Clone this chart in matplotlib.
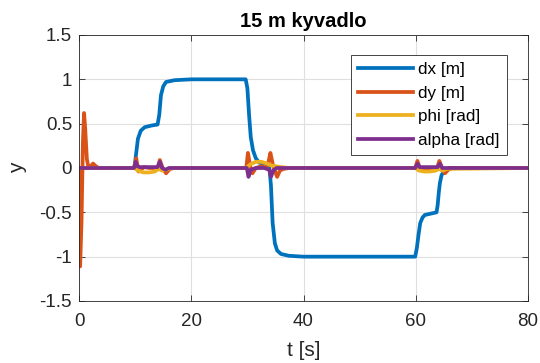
import matplotlib
matplotlib.use('Agg')
import matplotlib.pyplot as plt

plt.rcParams['font.family'] = ['Liberation Sans', 'DejaVu Sans']

# values (time [s], value)
t_dx = [0, 9.9, 10.1, 10.5, 11.0, 11.7, 13.0, 14.0, 14.3, 14.6, 15.0, 15.5, 17.0, 20.0,
        29.7, 30.0, 30.3, 30.6, 31.0, 31.5, 32.1, 33.8, 34.0, 34.2, 34.5, 34.9, 35.3, 36.0, 37.4, 40.0,
        59.9, 60.2, 60.5, 60.8, 61.2, 61.6, 63.7, 63.9, 64.1, 64.3, 64.6, 65.2, 66.0, 80]
dx = [0, 0, 0.12, 0.33, 0.42, 0.46, 0.48, 0.49, 0.6, 0.82, 0.92, 0.97, 0.99, 1.0,
      1.0, 0.9, 0.6, 0.35, 0.2, 0.11, 0.06, 0.04, -0.05, -0.2, -0.62, -0.85, -0.93, -0.97, -0.99, -1.0,
      -1.0, -0.9, -0.75, -0.62, -0.56, -0.53, -0.5, -0.42, -0.28, -0.17, -0.08, -0.02, 0, 0]

t_dy = [0, 0.05, 0.2, 0.45, 0.7, 0.9, 1.1, 1.4, 1.7, 2.1, 2.5, 3.0, 3.5,
        9.8, 10.2, 10.6, 11.0, 11.6, 12.5, 14.0, 14.4, 14.9, 15.5, 16.2, 17.0,
        29.8, 30.1, 30.5, 30.9, 31.5, 32.5, 33.4, 33.8, 34.1, 34.6, 35.3, 35.8, 36.4, 37.5,
        59.9, 60.3, 60.7, 61.2, 62.5, 63.8, 64.2, 64.7, 65.2, 65.8, 66.5, 80]
dy = [0, -0.8, -1.11, -0.6, 0.3, 0.62, 0.45, 0.1, 0.0, 0.02, 0.05, 0.02, 0,
      0, 0.11, -0.04, -0.02, 0.01, 0, 0, 0.09, 0.0, -0.06, -0.01, 0,
      0, 0.17, 0.02, -0.06, 0.0, 0.02, 0.0, 0.08, 0.17, 0.02, -0.1, -0.03, -0.01, 0,
      0, 0.08, 0.0, -0.02, 0, 0.0, 0.08, 0.0, -0.06, -0.02, 0, 0]

t_phi = [0, 9.9, 10.5, 11.5, 12.5, 13.5, 14.2, 14.8, 15.5, 16.5,
         29.8, 30.5, 31.5, 32.5, 33.5, 34.2, 35.0, 36.0, 37.5,
         59.9, 60.6, 61.5, 62.5, 63.5, 64.2, 64.8, 65.5, 80]
phi = [0, 0, -0.03, -0.05, -0.05, -0.04, -0.01, -0.03, -0.02, 0,
       0, 0.04, 0.07, 0.07, 0.05, 0.03, 0.02, 0.01, 0,
       0, -0.03, -0.04, -0.04, -0.03, -0.01, -0.03, -0.01, 0]

t_alpha = [0, 9.8, 10.1, 10.4, 10.9, 14.0, 14.4, 14.8, 15.4, 16.0,
           29.9, 30.2, 30.6, 31.5, 33.0, 33.9, 34.2, 34.6, 35.2, 36.0,
           59.9, 60.3, 60.7, 63.9, 64.3, 64.7, 65.3, 80]
alpha = [0, 0, 0.07, 0.02, 0.01, 0.01, 0.07, 0.0, -0.02, 0,
         0, -0.1, -0.02, 0.0, 0.0, -0.02, -0.1, -0.03, 0.0, 0,
         0, 0.05, 0.01, 0.01, 0.05, 0.0, 0.0, 0]

x_ticks = [0, 20, 40, 60, 80]
y_ticks = [-1.5, -1, -0.5, 0, 0.5, 1, 1.5]
y_labels = ['-1.5', '-1', '-0.5', '0', '0.5', '1', '1.5']

fig = plt.figure(figsize=(5.4, 3.63), dpi=100)
ax = fig.add_axes([0.1463, 0.1708, 0.8315, 0.7328])

lw = 2.7
ax.plot(t_dx, dx, color='#0072BD', lw=lw, label='dx [m]')
ax.plot(t_dy, dy, color='#D95319', lw=lw, label='dy [m]')
ax.plot(t_phi, phi, color='#EDB120', lw=lw, label='phi [rad]')
ax.plot(t_alpha, alpha, color='#7E2F8E', lw=lw, label='alpha [rad]')

ax.set_xlim(0, 80)
ax.set_ylim(-1.5, 1.5)
ax.set_xticks(x_ticks)
ax.set_yticks(y_ticks)
ax.set_yticklabels(y_labels)
ax.grid(True, color='#dfdfdf', lw=0.8)
ax.set_axisbelow(True)
ax.tick_params(direction='in', top=True, right=True, labelsize=13.5, colors='#262626',
               length=4, width=0.6, pad=5)
ax.tick_params(axis='x', pad=8.5)
for s in ax.spines.values():
    s.set_color('#262626')
    s.set_linewidth(0.6)

ax.set_title('15 m kyvadlo', fontsize=14.5, fontweight='bold', pad=6)
ax.set_xlabel('t [s]', fontsize=15, color='#262626', labelpad=8)
ax.set_ylabel('y', fontsize=15, color='#262626', labelpad=9)

leg = ax.legend(loc='upper right', bbox_to_anchor=(0.953, 0.925), fontsize=12.3,
                handlelength=3.2, fancybox=False, framealpha=1, borderpad=0.42,
                labelspacing=0.5, handletextpad=0.3, borderaxespad=0)
leg.get_frame().set_edgecolor('#262626')
leg.get_frame().set_linewidth(0.6)

fig.savefig('out.png', dpi=100)
